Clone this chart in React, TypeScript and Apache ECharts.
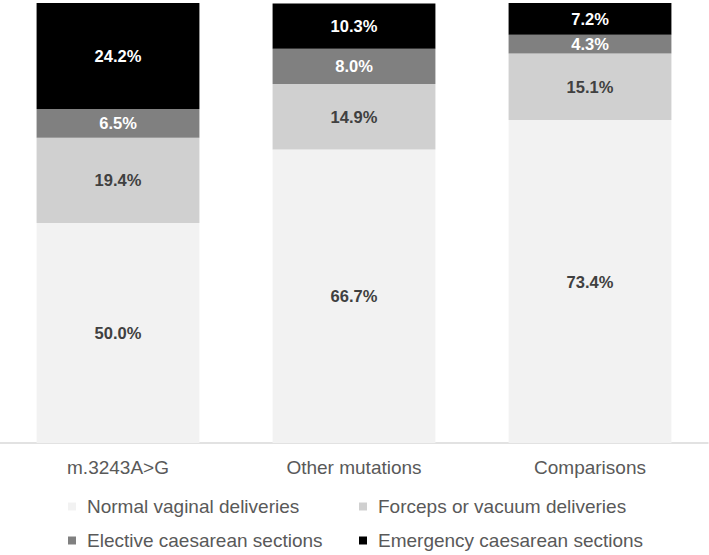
import React, { useEffect, useRef } from "react";
import * as echarts from "echarts";

const categories = ["m.3243A>G", "Other mutations", "Comparisons"];
const seriesNames = [
  "Normal vaginal deliveries",
  "Forceps or vacuum deliveries",
  "Elective caesarean sections",
  "Emergency caesarean sections",
];
const normalVaginal = [50.0, 66.7, 73.4];
const forcepsVacuum = [19.4, 14.9, 15.1];
const electiveCS = [6.5, 8.0, 4.3];
const emergencyCS = [24.2, 10.3, 7.2];

const FONT = "Liberation Sans, Arial, sans-serif";

export default function App() {
  const ref = useRef<HTMLDivElement>(null);
  useEffect(() => {
    if (!ref.current) return;
    const chart = echarts.init(ref.current, undefined, { renderer: "svg" });
    const mk = (name: string, data: number[], color: string, labelColor: string) => ({
      name,
      type: "bar",
      stack: "total",
      data,
      barWidth: "69%",
      itemStyle: { color },
      label: {
        show: true,
        position: "inside",
        formatter: (p: any) => p.value.toFixed(1) + "%",
        color: labelColor,
        fontWeight: "bold",
        fontSize: 16.5,
        fontFamily: FONT,
      },
    });
    const legendPos = [
      { left: 68, top: 497 },
      { left: 359, top: 497 },
      { left: 68, top: 531 },
      { left: 359, top: 531 },
    ];
    const legends = seriesNames.map((n, i) => ({
      orient: "horizontal",
      left: legendPos[i].left,
      top: legendPos[i].top,
      padding: 0,
      itemWidth: 8,
      itemHeight: 8,
      icon: "rect",
      data: [n],
      textStyle: {
        color: "#595959",
        fontSize: 19,
        fontFamily: FONT,
        padding: [0, 0, 0, 6],
      },
    }));
    chart.setOption({
      animation: false,
      textStyle: { fontFamily: FONT },
      grid: { left: 0, right: 1, top: 3, bottom: 112, containLabel: false },
      xAxis: {
        type: "category",
        data: categories,
        axisLine: { lineStyle: { color: "#d9d9d9", width: 1.5 } },
        axisTick: { show: false },
        axisLabel: { color: "#595959", fontSize: 19, margin: 15, fontFamily: FONT },
      },
      yAxis: {
        type: "value",
        min: 0,
        max: 100,
        show: false,
        splitLine: { show: false },
      },
      legend: legends,
      series: [
        mk(seriesNames[0], normalVaginal, "#f2f2f2", "#404040"),
        mk(seriesNames[1], forcepsVacuum, "#d0d0d0", "#404040"),
        mk(seriesNames[2], electiveCS, "#808080", "#ffffff"),
        mk(seriesNames[3], emergencyCS, "#000000", "#ffffff"),
      ],
    });
    return () => chart.dispose();
  }, []);
  return <div ref={ref} style={{ width: 709, height: 555, position: "absolute", left: 0, top: 0 }} />;
}
